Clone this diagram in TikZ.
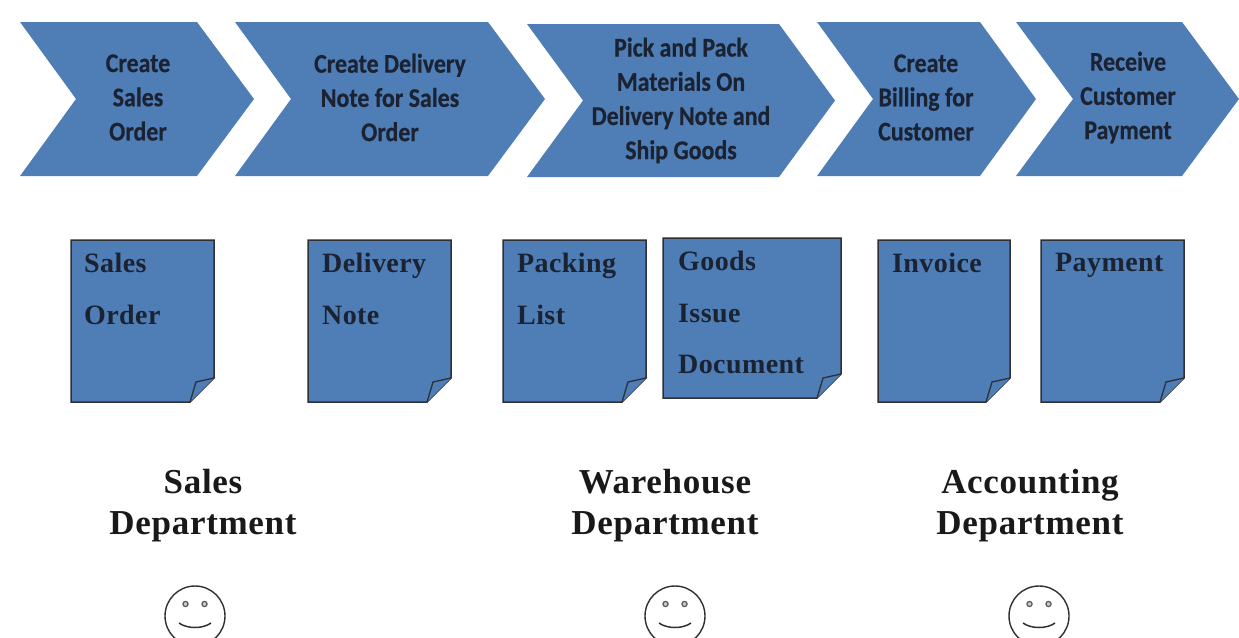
\documentclass[tikz,border=0pt]{standalone}
\usepackage{fontspec}
\setmainfont{Liberation Serif}
\newfontfamily\chevfont{Carlito}[FakeStretch=0.885,FakeBold=0.4]
\newfontfamily\docfont{Liberation Serif}[LetterSpace=1.5]
\newfontfamily\deptfont{Liberation Serif}[LetterSpace=2]
\usetikzlibrary{calc}
\definecolor{procblue}{HTML}{4F7DB6}
\definecolor{inkdark}{HTML}{1B2231}
\definecolor{lineink}{HTML}{2E3036}
\tikzset{
  x=1pt,y=-1pt,
  chevshape/.style={fill=procblue,draw=none},
  chevtext/.style={font=\chevfont\bfseries\fontsize{27}{34.2}\selectfont,text=inkdark,align=center,inner sep=0pt},
  docshape/.style={fill=procblue,draw=lineink,line width=1.5pt,line join=miter},
  doctext/.style={font=\docfont\bfseries\fontsize{28}{51.5}\selectfont,text=inkdark,align=left,anchor=north west,inner sep=0pt},
  depttext/.style={font=\deptfont\bfseries\fontsize{35}{41}\selectfont,text=black!90,align=center,inner sep=0pt},
  facering/.style={draw=lineink,line width=1.4pt,fill=white},
  faceeye/.style={draw=lineink!80,line width=1.2pt,fill=lineink!25},
}
\newcommand{\chevron}[6]{% left notch topright tip top bottom
  \fill[chevshape] (#1,#5) -- (#3,#5) -- (#4,{(#5+#6)/2}) -- (#3,#6) -- (#1,#6) -- (#2,{(#5+#6)/2}) -- cycle;
}
\newcommand{\docsheet}[4]{% left top right bottom
  \draw[docshape] (#1,#2) -- (#3,#2) -- (#3,#4-24) -- (#3-24,#4) -- (#1,#4) -- cycle;
  \draw[docshape,line width=1.3pt] (#3,#4-24) -- (#3-18,#4-20) -- (#3-24,#4);
}
\newcommand{\smiley}[1]{%
  \draw[facering] (#1,616) circle[radius=30];
  \draw[faceeye] (#1-9.5,604) circle[radius=2.6];
  \draw[faceeye] (#1+9.5,604) circle[radius=2.6];
  \draw[lineink,line width=1.5pt] (#1-16,623) .. controls (#1-8,629) and (#1+8,629) .. (#1+16,623);
}
\begin{document}
\begin{tikzpicture}
\useasboundingbox (0,0) rectangle (1239,637);
\clip (0,0) rectangle (1239,637);
\chevron{20}{76}{197}{254}{22}{176}
\chevron{235}{291}{488}{545}{22}{176}
\chevron{527}{583}{779}{835}{24}{177}
\chevron{817}{873}{980}{1036}{22}{176}
\chevron{1016}{1073}{1182}{1239}{22}{176}
\node[chevtext] (c1) at (138,97.5) {Create\\Sales\\Order};
\node[chevtext] (c2) at (390,97.5) {Create Delivery\\Note for Sales\\Order};
\node[chevtext] (c3) at (681,100.5) {Pick and Pack\\Materials On\\Delivery Note and\\Ship Goods};
\node[chevtext] (c4) at (926,97.5) {Create\\Billing for\\Customer};
\node[chevtext] (c5) at (1128,97.5) {Receive\\Customer\\Payment};
\docsheet{71}{240}{214}{402}
\docsheet{308}{240}{451}{402}
\docsheet{503}{240}{646}{402}
\docsheet{663}{238}{841}{398}
\docsheet{878}{240}{1010}{402}
\docsheet{1041}{240}{1184}{402}
\node[doctext] (d1) at (84,253) {Sales\\Order};
\node[doctext] (d2) at (322,253) {Delivery\\Note};
\node[doctext] (d3) at (517,253) {Packing\\List};
\node[doctext] (d4) at (678,251) {Goods\\Issue\\Document};
\node[doctext] (d5) at (892,253) {Invoice};
\node[doctext] (d6) at (1055,253) {Payment};
\node[depttext] (s) at (203,506) {Sales\\Department};
\node[depttext] (w) at (665,506) {Warehouse\\Department};
\node[depttext] (a) at (1030,506) {Accounting\\Department};
\smiley{195}
\smiley{675}
\smiley{1039}
\end{tikzpicture}
\end{document}
